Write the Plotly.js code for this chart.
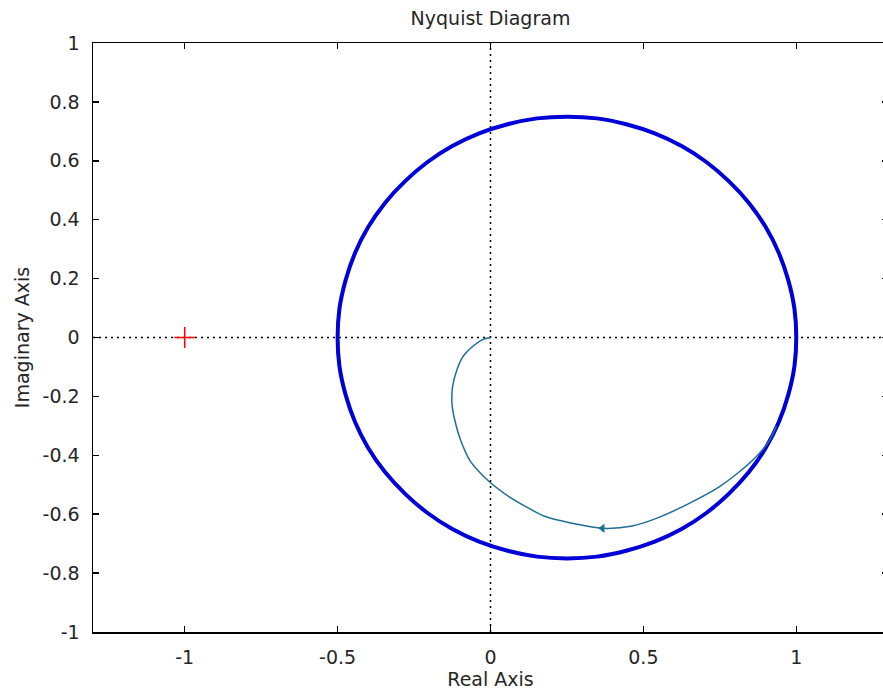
<!DOCTYPE html>
<html>
<head>
<meta charset="utf-8">
<script src="https://cdn.plot.ly/plotly-3.0.1.min.js"></script>
<style>
html,body{margin:0;padding:0;overflow:hidden;background:#fff;}
#chart{width:900px;height:693px;}
</style>
</head>
<body>
<div id="chart"></div>
<script>
// Thick blue loop
const circleRe = [1.0, 0.994, 0.974, 0.943, 0.900, 0.845, 0.780, 0.707, 0.625, 0.537, 0.444, 0.348, 0.25,
                  0.152, 0.056, -0.037, -0.125, -0.207, -0.280, -0.345, -0.400, -0.443, -0.474, -0.494, -0.5,
                  -0.494, -0.474, -0.443, -0.400, -0.345, -0.280, -0.207, -0.125, -0.037, 0.056, 0.152, 0.25,
                  0.348, 0.444, 0.537, 0.625, 0.707, 0.780, 0.845, 0.900, 0.943, 0.974, 0.994, 1.0];
const circleIm = [0, 0.098, 0.194, 0.287, 0.375, 0.457, 0.530, 0.595, 0.650, 0.693, 0.724, 0.744, 0.75,
                  0.744, 0.724, 0.693, 0.650, 0.595, 0.530, 0.457, 0.375, 0.287, 0.194, 0.098, 0,
                  -0.098, -0.194, -0.287, -0.375, -0.457, -0.530, -0.595, -0.650, -0.693, -0.724, -0.744, -0.75,
                  -0.744, -0.724, -0.693, -0.650, -0.595, -0.530, -0.457, -0.375, -0.287, -0.194, -0.098, 0];
// Thin inner branch
const innerRe = [0.935, 0.912, 0.869, 0.814, 0.748, 0.650, 0.555, 0.464, 0.366, 0.268, 0.180, 0.126, 0.060, -0.011,
                 -0.066, -0.098, -0.117, -0.126, -0.124, -0.110, -0.087, -0.028, 0];
const innerIm = [-0.300, -0.350, -0.405, -0.456, -0.507, -0.563, -0.609, -0.640, -0.648, -0.631, -0.608, -0.580, -0.540, -0.483,
                 -0.420, -0.348, -0.280, -0.224, -0.167, -0.110, -0.060, -0.008, 0];
// Direction arrow
const arrowRe = [0.366];
const arrowIm = [-0.648];
// Critical point
const critRe = [-1];
const critIm = [0];

const xTicks = [-1, -0.5, 0, 0.5, 1];
const xTickText = ['-1', '-0.5', '0', '0.5', '1'];
const yTicks = [-1, -0.8, -0.6, -0.4, -0.2, 0, 0.2, 0.4, 0.6, 0.8, 1];
const yTickText = ['-1', '-0.8', '-0.6', '-0.4', '-0.2', '0', '0.2', '0.4', '0.6', '0.8', '1'];

const FONT = 'DejaVu Sans, sans-serif';
const TXT = '#262626';

const traces = [
  {x: circleRe, y: circleIm, mode: 'lines', line: {color: '#0000d8', width: 4, shape: 'spline', smoothing: 1}, hoverinfo: 'skip'},
  {x: innerRe, y: innerIm, mode: 'lines', line: {color: '#1f6e94', width: 1.5, shape: 'spline', smoothing: 1}, hoverinfo: 'skip'},
  {x: arrowRe, y: arrowIm, mode: 'markers', marker: {symbol: 'triangle-left', size: 8, color: '#1f6e94'}, hoverinfo: 'skip'},
  {x: critRe, y: critIm, mode: 'markers', marker: {symbol: 'cross-thin', size: 15, line: {color: '#ff0000', width: 1.5}}, hoverinfo: 'skip'}
];

const layout = {
  width: 900, height: 693,
  margin: {l: 93, r: 12, t: 43, b: 61},
  paper_bgcolor: '#fff', plot_bgcolor: '#fff',
  showlegend: false,
  font: {family: FONT, size: 19, color: TXT},
  title: {text: 'Nyquist Diagram', font: {family: FONT, size: 19, color: TXT}, x: 0.5, xref: 'paper', y: 1, yref: 'paper', yanchor: 'bottom', pad: {b: 18}},
  xaxis: {
    range: [-1.3, 1.3], tickvals: xTicks, ticktext: xTickText,
    showgrid: false, zeroline: false, showline: true, linecolor: '#000', linewidth: 1.5,
    mirror: 'ticks', ticks: 'inside', ticklen: 6, tickwidth: 1.5, tickcolor: '#000',
    ticklabelstandoff: 8,
    tickfont: {family: FONT, size: 19, color: TXT},
    title: {text: 'Real Axis', font: {family: FONT, size: 19, color: TXT}, standoff: 2},
    automargin: false
  },
  yaxis: {
    range: [-1, 1], tickvals: yTicks, ticktext: yTickText,
    showgrid: false, zeroline: false, showline: true, linecolor: '#000', linewidth: 1.5,
    mirror: 'ticks', ticks: 'inside', ticklen: 6, tickwidth: 1.5, tickcolor: '#000',
    ticklabelstandoff: 8,
    tickfont: {family: FONT, size: 19, color: TXT},
    title: {text: 'Imaginary Axis', font: {family: FONT, size: 19, color: TXT}, standoff: 8},
    automargin: false
  },
  shapes: [
    {type: 'line', xref: 'x', yref: 'paper', x0: 0, x1: 0, y0: 0, y1: 1, line: {color: '#000', width: 1.5, dash: '2px,4px'}, layer: 'below'},
    {type: 'line', xref: 'paper', yref: 'y', x0: 0, x1: 1, y0: 0, y1: 0, line: {color: '#000', width: 1.5, dash: '2px,4px'}, layer: 'below'}
  ]
};

Plotly.newPlot('chart', traces, layout, {displayModeBar: false, staticPlot: true});
</script>
</body>
</html>
